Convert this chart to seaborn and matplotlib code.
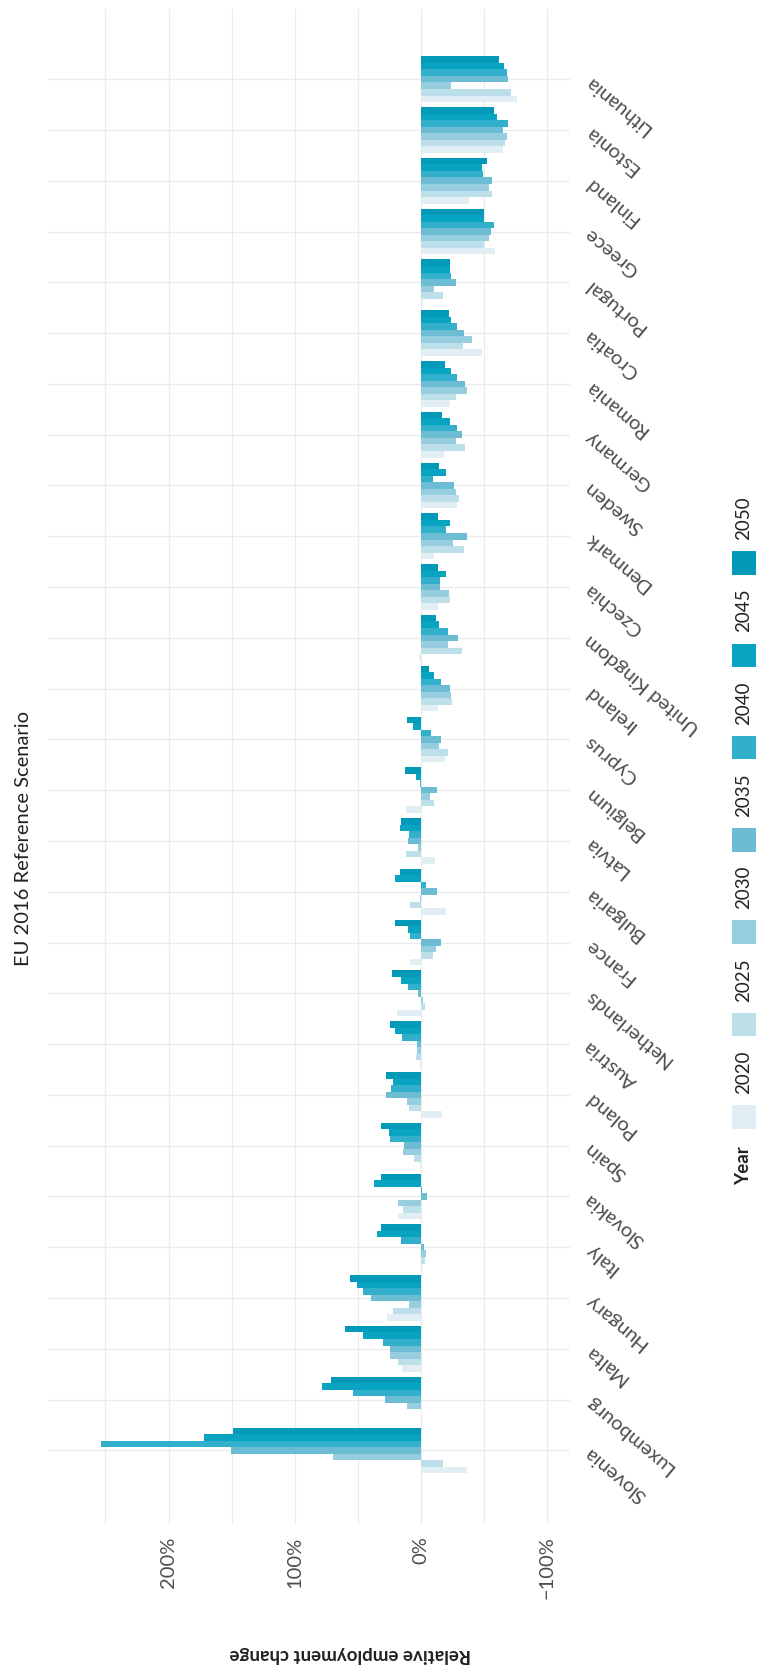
import pandas as pd
import matplotlib.pyplot as plt
import seaborn as sns
from matplotlib.patches import Rectangle

# Länder (von oben nach unten) und Jahre
countries = ['Lithuania', 'Estonia', 'Finland', 'Greece', 'Portugal', 'Croatia', 'Romania',
             'Germany', 'Sweden', 'Denmark', 'Czechia', 'United Kingdom', 'Ireland', 'Cyprus',
             'Belgium', 'Latvia', 'Bulgaria', 'France', 'Netherlands', 'Austria', 'Poland',
             'Spain', 'Slovakia', 'Italy', 'Hungary', 'Malta', 'Luxembourg', 'Slovenia']
years = ['2020', '2025', '2030', '2035', '2040', '2045', '2050']

# relative Beschäftigungsänderung in %
v2020 = [-76.4, -65.2, -38.3, -58.9, -1.9, -48.6, -23.2, -18.5, -28.8, -10.5, -13.7, 1.3, -13.7, -19.3,
         11.7, -11.3, -20.1, 8.5, 18.8, 0.5, -16.9, 0.3, 18.2, -1.8, 26.7, 15.0, 0.0, -36.8]
v2025 = [-71.6, -66.8, -56.5, -50.1, -17.7, -33.6, -28.0, -35.1, -30.4, -34.4, -23.2, -32.8, -24.8, -21.6,
         -10.5, 11.7, 8.5, -9.7, -3.4, 3.7, 9.3, 5.3, 14.1, -3.4, 22.0, 18.2, -0.5, -17.6]
v2030 = [-24.0, -68.4, -54.1, -54.1, -10.5, -40.7, -36.7, -28.0, -28.0, -25.6, -22.4, -21.6, -24.0, -14.5,
         -7.4, 2.1, 0.5, -12.1, -1.9, 2.9, 10.9, 14.1, 18.2, -4.2, 9.3, 24.4, 10.9, 69.7]
v2035 = [-69.2, -65.2, -56.5, -55.7, -28.0, -34.4, -35.1, -32.8, -26.4, -36.7, -15.3, -29.6, -23.2, -16.1,
         -12.9, 10.1, -12.9, -16.1, 2.1, 2.9, 27.5, 13.3, -5.0, -2.6, 39.4, 24.4, 28.3, 150.1]
v2040 = [-68.4, -69.2, -49.4, -58.1, -24.0, -28.8, -28.8, -28.8, -9.7, -20.1, -15.3, -21.6, -16.1, -8.2,
         0.5, 9.3, -4.2, 8.5, 10.1, 14.8, 23.6, 24.4, -1.1, 15.6, 45.8, 30.0, 53.6, 253.5]
v2045 = [-66.0, -60.5, -48.6, -50.1, -23.2, -24.0, -24.0, -23.2, -20.1, -23.2, -20.1, -14.5, -10.5, 6.1,
         3.7, 16.4, 20.4, 10.1, 15.6, 20.4, 22.0, 25.2, 37.0, 34.7, 50.5, 45.8, 78.2, 171.9]
v2050 = [-62.0, -58.1, -52.6, -50.1, -23.2, -22.4, -19.3, -16.9, -14.5, -13.7, -13.7, -12.1, -6.6, 10.9,
         12.5, 15.6, 16.4, 20.4, 22.8, 24.4, 27.5, 31.5, 31.5, 31.5, 56.0, 59.9, 71.1, 148.9]

xticks = [200, 100, 0, -100]
xticklabels = ['200%', '100%', '0%', '\u2212100%']
colors = ['#E1EEF4', '#BDDFEA', '#96CDDF', '#6CBDD4', '#32B0CB', '#09A4C2', '#029AB8']

values = [v2020, v2025, v2030, v2035, v2040, v2045, v2050]
df = pd.DataFrame({
    'country': countries * len(years),
    'year': [y for y in years for _ in countries],
    'change': [v for vals in values for v in vals],
})
palette = dict(zip(years, colors))

sns.set_style('white')
plt.rcParams['font.family'] = ['Lato', 'DejaVu Sans']

W, H = 758, 1671
fig = plt.figure(figsize=(W / 100, H / 100), dpi=100)
ax = fig.add_axes([47.5 / W, 1 - 1524 / H, (570 - 47.5) / W, (1524 - 8.6) / H])

sns.barplot(data=df, x='change', y='country', hue='year', order=countries,
            hue_order=years[::-1], palette=palette, orient='h', width=0.9,
            saturation=1, linewidth=0, legend=False, ax=ax)

ax.set_xlim(296, -118.4)
ax.set_ylim(len(countries) - 1 + 1.45, -1.39)
ax.set_xticks(xticks)
ax.set_xticklabels(xticklabels)
ax.set_xticks([250, 150, 50, -50], minor=True)
ax.set_axisbelow(True)
ax.grid(True, which='both', axis='x', color='#EBEBEB', linewidth=0.9)
ax.grid(True, which='major', axis='y', color='#EBEBEB', linewidth=0.9)
for s in ax.spines.values():
    s.set_visible(False)
ax.set_xlabel('')
ax.set_ylabel('')

ax.tick_params(axis='x', which='both', length=0, pad=9, labelsize=14.5, labelcolor='#4D4D4D')
for t in ax.get_xticklabels():
    t.set_rotation(90)

ax.yaxis.tick_right()
ax.tick_params(axis='y', length=0, pad=12, labelsize=14.5, labelcolor='#4D4D4D')
for t in ax.get_yticklabels():
    t.set_rotation(140)
    t.set_rotation_mode('anchor')
    t.set_ha('right')
    t.set_va('center')

# Titel und Achsentitel
fig.text(24 / W, 1 - 839 / H, 'EU 2016 Reference Scenario', rotation=90,
         ha='center', va='center', fontsize=14.5, color='#222222')
fig.text(350 / W, 1 - 1655 / H, 'Relative employment change', rotation=180,
         ha='center', va='center', fontsize=13.5, fontweight='bold', color='#222222')

# Legende (senkrecht, Jahr 2020 unten)
sq = 23.5
for i, yr in enumerate(years):
    top = 1105 - i * 92.3
    fig.patches.append(Rectangle((732.3 / W, 1 - (top + sq) / H), sq / W, sq / H,
                                 transform=fig.transFigure, facecolor=palette[yr],
                                 edgecolor='none'))
    fig.text(744 / W, 1 - (top - 11) / H, yr, rotation=90, ha='center', va='bottom',
             fontsize=13.5, color='#222222')
fig.text(744 / W, 1 - 1146 / H, 'Year', rotation=90, ha='center', va='top',
         fontsize=13.5, fontweight='bold', color='#222222')

fig.savefig('out.png', dpi=100)
